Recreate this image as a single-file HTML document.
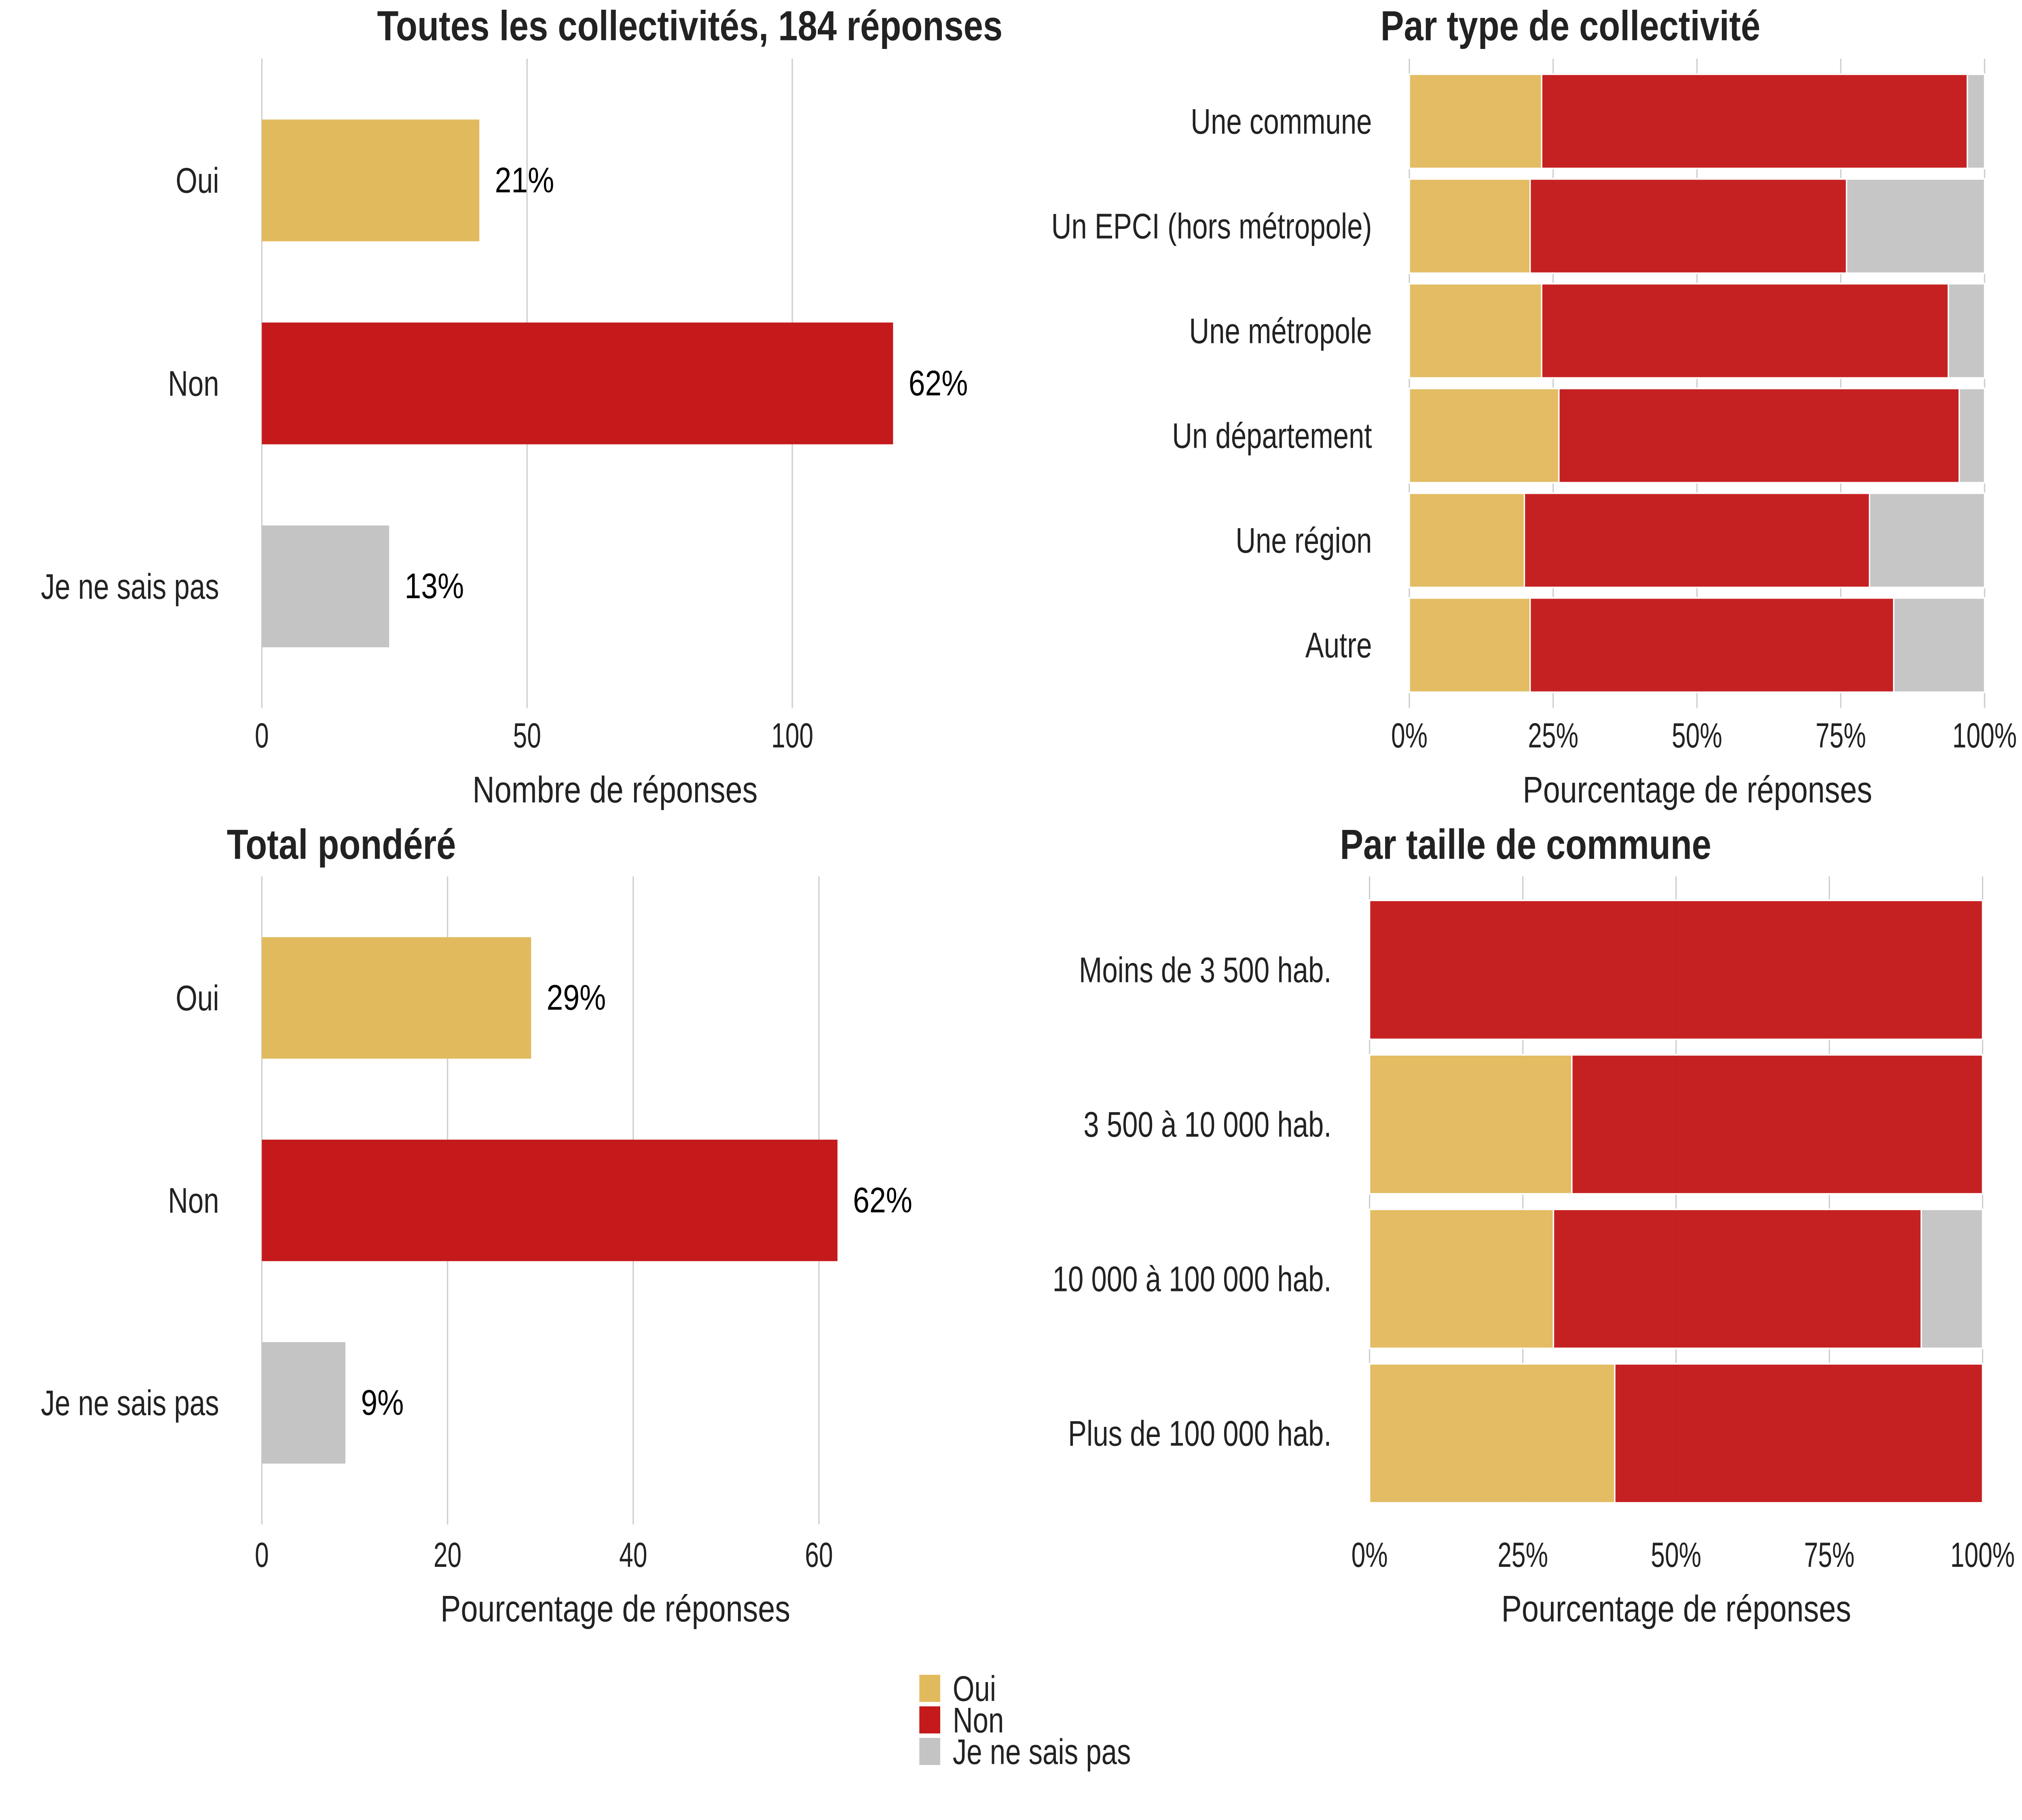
<!DOCTYPE html>
<html><head><meta charset="utf-8">
<style>html,body{margin:0;padding:0;background:#fff;overflow:hidden;width:100%;height:100%;}svg{display:block;width:100vw;height:100vh;}</style>
</head><body>
<svg id="chart" xmlns="http://www.w3.org/2000/svg" viewBox="0 0 6000 4500" preserveAspectRatio="none">
<rect width="6000" height="4500" fill="#fff"/>
</svg>
<script>
const countCats = ["Oui", "Non", "Je ne sais pas"];
const countValues = [41, 119, 24];
const countLabels = ["21%", "62%", "13%"];
const countTicks = [0, 50, 100];
const weightedValues = [29, 62, 9];
const weightedLabels = ["29%", "62%", "9%"];
const weightedTicks = [0, 20, 40, 60];
const typeCats = ["Une commune", "Un EPCI (hors métropole)", "Une métropole", "Un département", "Une région", "Autre"];
const typeOui = [23, 21, 23, 26, 20, 21];
const typeNon = [74, 55, 70.7, 69.6, 60, 63.2];
const typeNsp = [3, 24, 6.3, 4.4, 20, 15.8];
const sizeCats = ["Moins de 3 500 hab.", "3 500 à 10 000 hab.", "10 000 à 100 000 hab.", "Plus de 100 000 hab."];
const sizeOui = [0, 33, 30, 40];
const sizeNon = [100, 67, 60, 60];
const sizeNsp = [0, 0, 10, 0];
const pctTicks = [0, 25, 50, 75, 100];
const pctTickLabels = ["0%", "25%", "50%", "75%", "100%"];
const legendLabels = ["Oui", "Non", "Je ne sais pas"];

const NS = "http://www.w3.org/2000/svg";
const svg = document.getElementById("chart");
const COLORS = ["#E2BA5E", "#C41A1B", "#C4C4C4"];
const FONT = '"Liberation Sans", Arial, sans-serif';
const TXT = "#222222";

function mk(tag, attrs, parent) {
  const e = document.createElementNS(NS, tag);
  for (const k in attrs) e.setAttribute(k, attrs[k]);
  (parent || svg).appendChild(e);
  return e;
}
function condText(str, x, y, size, anchor, name, parent, sx) {
  const g = mk("g", {transform: "translate(" + x + "," + y + ") scale(" + (sx || 0.87) + ",1)"}, parent);
  const t = mk("text", {x: 0, y: 0, "font-family": FONT, "font-size": size, fill: TXT, "text-anchor": anchor, "dominant-baseline": "central"}, g);
  t.textContent = str;
  
  
  return t;
}
function fitText(str, cx, cy, size, len, bold, name, anchor) {
  const t = mk("text", {x: cx, y: cy, "font-family": FONT, "font-size": size, fill: TXT, "font-weight": bold ? "bold" : "normal", "text-anchor": anchor || "middle", "dominant-baseline": "central", textLength: len, lengthAdjust: "spacingAndGlyphs"});
  t.textContent = str;
  
  
  return t;
}

function simplePanel(p) {
  const g = mk("g", {});
  
  
  const xs = v => p.x0 + (v - p.d0) * p.ppu;
  const band = (p.bottom - p.top) / (p.cats.length - 1 + 1.2);
  const yc = i => p.top + band * (0.6 + i);
  p.ticks.forEach((t, i) => {
    const l = mk("line", {x1: xs(t), x2: xs(t), y1: p.top, y2: p.bottom, stroke: "#cfcfcf", "stroke-width": 4}, g);
    
    
    condText(String(t), xs(t), p.tickY, 86, "middle", "x-tick-label", g);
  });
  p.cats.forEach((c, i) => {
    const h = band * 0.6;
    const r = mk("rect", {x: xs(0), y: yc(i) - h / 2, width: xs(p.values[i]) - xs(0), height: h, fill: COLORS[i]}, g);
    
    
    condText(c, p.labelX, yc(i), 88, "end", "y-category-label", g, 0.94);
    const t = mk("text", {x: xs(p.values[i]) + 46, y: yc(i), "font-family": FONT, "font-size": 88, fill: "#000", "dominant-baseline": "central"}, g);
    t.textContent = p.labels[i];
    
    
  });
}

function stackedPanel(p) {
  const g = mk("g", {});
  
  
  const xs = v => p.x0 + (p.x1 - p.x0) * v / 100;
  pctTicks.forEach((t, i) => {
    const l = mk("line", {x1: xs(t), x2: xs(t), y1: p.top, y2: p.bottom, stroke: "#cfcfcf", "stroke-width": 4}, g);
    
    
    condText(pctTickLabels[i], xs(t), p.tickY, 86, "middle", "x-tick-label", g);
  });
  p.cats.forEach((c, i) => {
    const yc = p.c0 + i * p.pitch;
    const h = p.pitch * 0.9;
    let acc = 0;
    [p.oui[i], p.non[i], p.nsp[i]].forEach((v, k) => {
      if (v > 0) {
        const r = mk("rect", {x: xs(acc), y: yc - h / 2, width: xs(acc + v) - xs(acc), height: h, fill: COLORS[k], "fill-opacity": 0.97, stroke: "#fff", "stroke-width": 4}, g);
        
        
      }
      acc += v;
    });
    condText(c, p.labelX, yc, 88, "end", "y-category-label", g, 0.94);
  });
}

simplePanel({name: "panel-all", cats: countCats, values: countValues, labels: countLabels, ticks: countTicks,
  x0: 777, d0: 0, ppu: 15.74, top: 145, bottom: 1751, tickY: 1818, labelX: 650});
fitText("Toutes les collectivités, 184 réponses", 2047, 64, 104, 1856, true, "panel-title");
fitText("Nombre de réponses", 1825, 1952, 92, 846, false, "x-axis-title");

stackedPanel({name: "panel-type", cats: typeCats, oui: typeOui, non: typeNon, nsp: typeNsp,
  x0: 4182, x1: 5889, top: 145, bottom: 1751, c0: 300, pitch: 259, tickY: 1818, labelX: 4071});
fitText("Par type de collectivité", 4660, 64, 104, 1127, true, "panel-title");
fitText("Pourcentage de réponses", 5037, 1952, 92, 1037, false, "x-axis-title");

simplePanel({name: "panel-weighted", cats: countCats, values: weightedValues, labels: weightedLabels, ticks: weightedTicks,
  x0: 777, d0: 0, ppu: 27.55, top: 2167, bottom: 3769, tickY: 3844, labelX: 650});
fitText("Total pondéré", 673, 2088, 104, 680, true, "panel-title", "start");
fitText("Pourcentage de réponses", 1826, 3977, 92, 1038, false, "x-axis-title");

stackedPanel({name: "panel-size", cats: sizeCats, oui: sizeOui, non: sizeNon, nsp: sizeNsp,
  x0: 4064, x1: 5883, top: 2167, bottom: 3718, c0: 2398, pitch: 382, tickY: 3844, labelX: 3951});
fitText("Par taille de commune", 4527, 2088, 104, 1102, true, "panel-title");
fitText("Pourcentage de réponses", 4974, 3977, 92, 1038, false, "x-axis-title");

const lg = mk("g", {});


legendLabels.forEach((l, i) => {
  const y = 4141 + i * 78;
  const r = mk("rect", {x: 2728, y: y, width: 62, height: 67, fill: COLORS[i]}, lg);
  
  
  condText(l, 2827, y + 34, 88, "start", "legend-entry", lg, 0.94);
});
</script>
</body></html>
